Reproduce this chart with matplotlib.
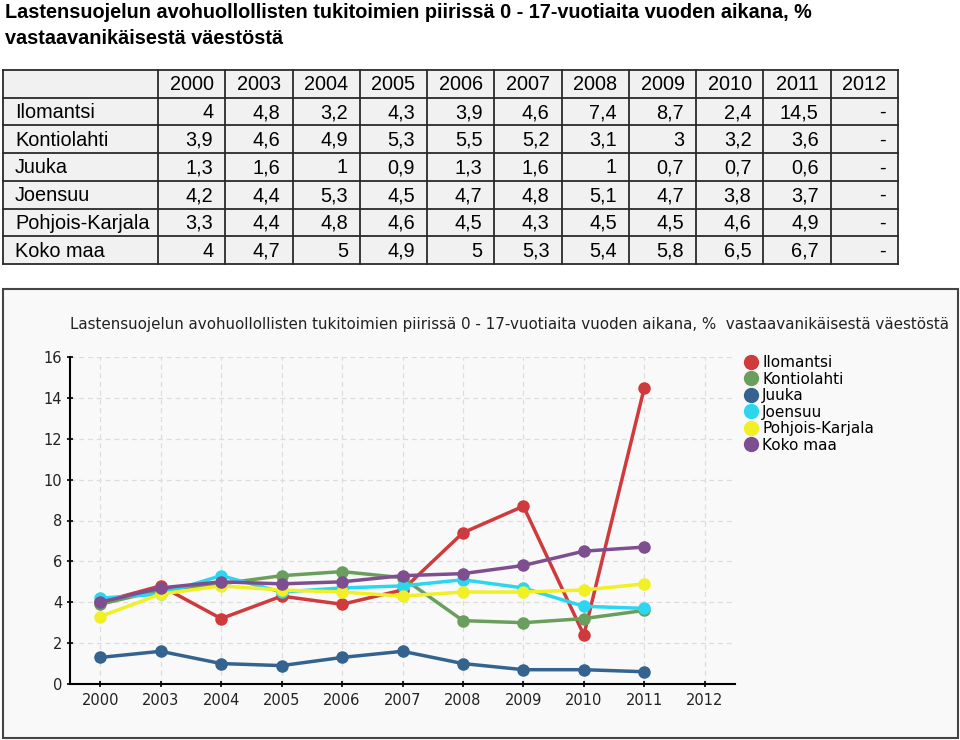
import matplotlib
matplotlib.use("Agg")
import matplotlib.pyplot as plt
import numpy as np
from matplotlib.lines import Line2D

# Data from the table / chart
years = ["2000", "2003", "2004", "2005", "2006", "2007", "2008", "2009", "2010", "2011", "2012"]
regions = ["Ilomantsi", "Kontiolahti", "Juuka", "Joensuu", "Pohjois-Karjala", "Koko maa"]
ilomantsi = [4, 4.8, 3.2, 4.3, 3.9, 4.6, 7.4, 8.7, 2.4, 14.5, np.nan]
kontiolahti = [3.9, 4.6, 4.9, 5.3, 5.5, 5.2, 3.1, 3, 3.2, 3.6, np.nan]
juuka = [1.3, 1.6, 1, 0.9, 1.3, 1.6, 1, 0.7, 0.7, 0.6, np.nan]
joensuu = [4.2, 4.4, 5.3, 4.5, 4.7, 4.8, 5.1, 4.7, 3.8, 3.7, np.nan]
pohjois_karjala = [3.3, 4.4, 4.8, 4.6, 4.5, 4.3, 4.5, 4.5, 4.6, 4.9, np.nan]
koko_maa = [4, 4.7, 5, 4.9, 5, 5.3, 5.4, 5.8, 6.5, 6.7, np.nan]
series = [ilomantsi, kontiolahti, juuka, joensuu, pohjois_karjala, koko_maa]
colors = ["#cf3b3d", "#6a9e5c", "#33638e", "#2dd6ef", "#f0f024", "#7e4e90"]

title = "Lastensuojelun avohuollollisten tukitoimien piirissä 0 - 17-vuotiaita vuoden aikana, %"
title2 = "vastaavanikäisestä väestöstä"
chart_title = title + "  " + title2


def fmt(v):
    if np.isnan(v):
        return "-"
    return f"{v:g}".replace(".", ",")


W, H = 960, 740
fig = plt.figure(figsize=(W / 100, H / 100), dpi=100)
fig.patch.set_facecolor("white")

# background layer in pixel coordinates
bg = fig.add_axes([0, 0, 1, 1], zorder=0)
bg.set_xlim(0, W)
bg.set_ylim(H, 0)
bg.axis("off")

sans = "Liberation Sans"
fs = 14.3
bg.text(5, 13, title, fontsize=fs, fontweight="bold", family=sans, va="center", ha="left")
bg.text(5, 39, title2, fontsize=fs, fontweight="bold", family=sans, va="center", ha="left")

# table
tx0, tx1 = 3, 898
col_w = (tx1 - 158) / len(years)
ty0, row_h = 70, 27.7
n_rows = len(regions) + 1
bg.add_patch(plt.Rectangle((tx0, ty0), tx1 - tx0, row_h * n_rows, facecolor="#f1f1f1",
                           edgecolor="none"))
for i in range(n_rows + 1):
    y = ty0 + i * row_h
    bg.plot([tx0, tx1], [y, y], color="#2a2a2a", lw=1.3, solid_capstyle="projecting")
xs = [tx0] + [158 + j * col_w for j in range(len(years) + 1)]
for x in xs:
    bg.plot([x, x], [ty0, ty0 + row_h * n_rows], color="#2a2a2a", lw=1.3)
for j, yr in enumerate(years):
    cx = 158 + (j + 0.5) * col_w
    bg.text(cx, ty0 + row_h / 2 + 1, yr, fontsize=fs, family=sans, ha="center", va="center")
for i, (name, vals) in enumerate(zip(regions, series)):
    cy = ty0 + (i + 1.5) * row_h + 1
    bg.text(15, cy, name, fontsize=fs, family=sans, ha="left", va="center")
    for j, v in enumerate(vals):
        rx = 158 + (j + 1) * col_w - 12
        bg.text(rx, cy, fmt(v), fontsize=fs, family=sans, ha="right", va="center")

# chart panel
bg.add_patch(plt.Rectangle((3, 289), 955, 449, facecolor="#f9f9f9", edgecolor="#444444", lw=1.5))
bg.text(70, 325, chart_title, fontsize=10.9, family="DejaVu Sans", ha="left", va="center",
        color="#222222")

# chart axes
ax = fig.add_axes([70 / W, 1 - 684 / H, (735 - 70) / W, (684 - 357) / H], zorder=1)
ax.patch.set_alpha(0)
x = np.arange(len(years))
for name, vals, c in zip(regions, series, colors):
    ax.plot(x, vals, color=c, lw=2.5, marker="o", markersize=8, label=name)

ax.set_xlim(-0.5, len(years) - 0.5)
ax.set_ylim(0, 16)
ax.set_yticks(np.arange(0, 17, 2))
ax.set_xticks(x)
ax.set_xticklabels(years)
ax.tick_params(axis="y", direction="inout", length=5, width=1.2, labelsize=10.5, pad=3)
ax.tick_params(axis="x", direction="inout", length=5, width=1.2, labelsize=10.5, pad=4)
for lab in ax.get_xticklabels() + ax.get_yticklabels():
    lab.set_color("#222222")
ax.spines["top"].set_visible(False)
ax.spines["right"].set_visible(False)
ax.spines["left"].set_linewidth(1.5)
ax.spines["bottom"].set_linewidth(1.5)
ax.grid(True, color="#dddddd", linestyle=(0, (4, 3)), lw=0.9)
ax.set_axisbelow(True)

handles = [Line2D([], [], linestyle="none", marker="o", markersize=10, color=c) for c in colors]
fig.legend(handles, regions, loc="upper left", bbox_to_anchor=(746 / W, 1 - 355 / H),
           frameon=False, fontsize=11, handlelength=0.7, handletextpad=0.35,
           labelspacing=0.1, borderpad=0, borderaxespad=0)

fig.savefig("out.png", dpi=100, facecolor="white")
